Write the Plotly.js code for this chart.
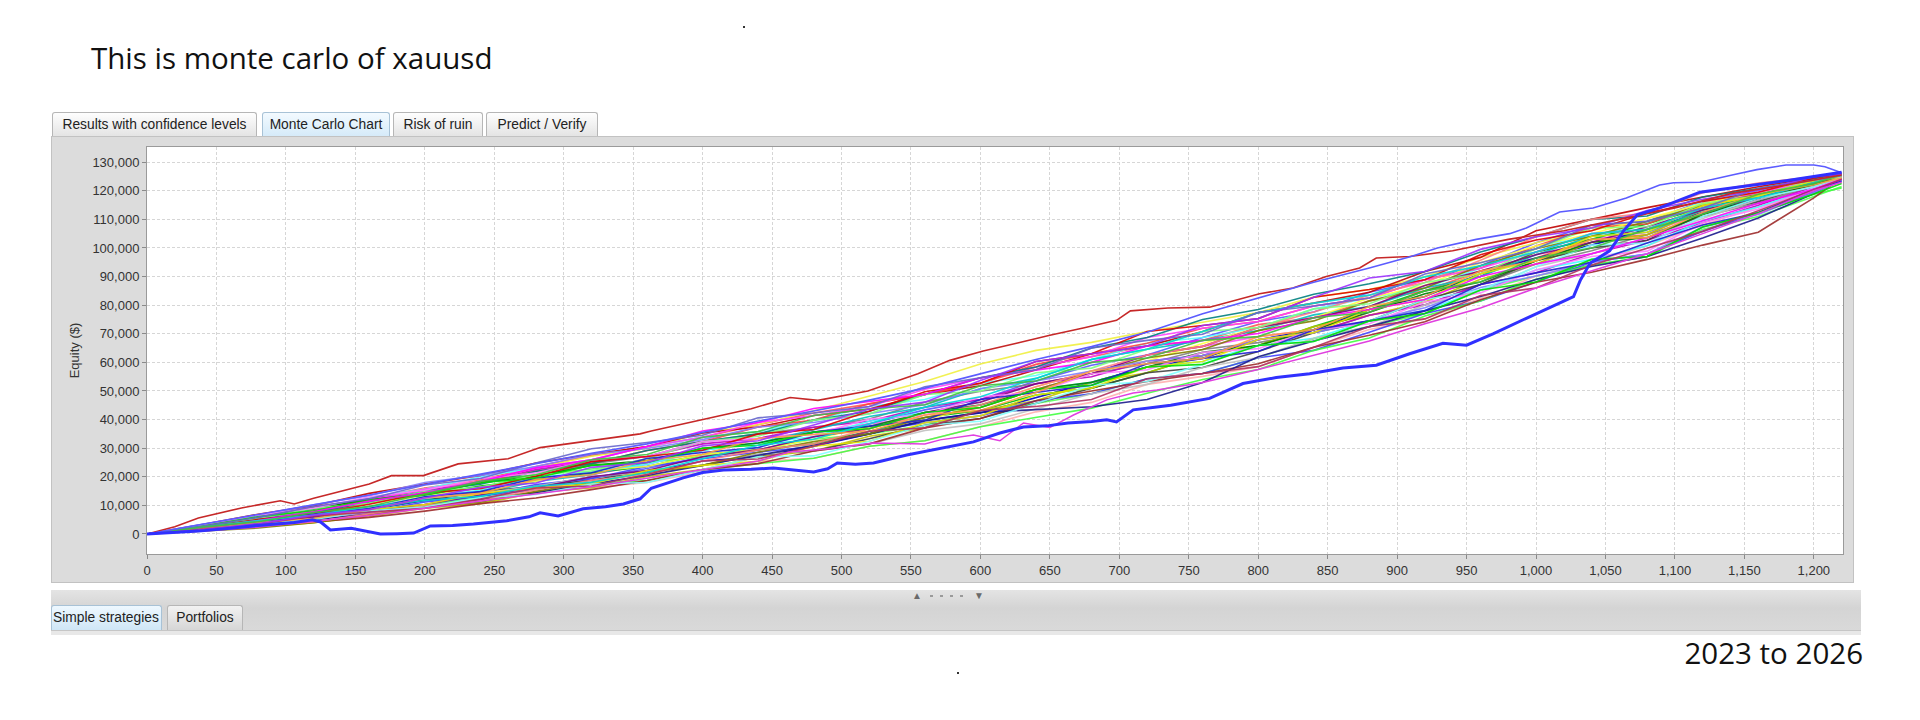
<!DOCTYPE html>
<html>
<head>
<meta charset="utf-8">
<script src="https://cdn.plot.ly/plotly-3.0.1.min.js"></script>
<style>
  html, body { margin: 0; padding: 0; background: #ffffff; }
  #page { position: relative; width: 1920px; height: 720px; overflow: hidden; background: #ffffff;
          font-family: "Liberation Sans", Arial, sans-serif; }
  .bigtext { position: absolute; font-family: "Open Sans", Lato, sans-serif; font-size: 29.5px; line-height: 29.5px;
             color: #111111; white-space: nowrap; }
  .tab { position: absolute; height: 25px; box-sizing: border-box; border: 1px solid #b6b6b6; border-bottom: none;
         border-radius: 3px 3px 0 0; background: linear-gradient(#fefefe, #e3e3e3);
         font-size: 13.8px; line-height: 24px; color: #222; text-align: center; white-space: nowrap; overflow: hidden; }
  .tab.sel { background: linear-gradient(#f3faff, #d4eaf9); border-color: #a8c2d6; }
  #panel { position: absolute; left: 51px; top: 136px; width: 1803px; height: 447px; box-sizing: border-box;
           background: #dcdcdc; border: 1px solid #c2c2c2; }
  #split { position: absolute; left: 51px; top: 590px; width: 1810px; height: 40px;
           background: linear-gradient(#e4e4e4, #d4d4d4 45%, #d9d9d9); }
  #strip { position: absolute; left: 51px; top: 630px; width: 1810px; height: 5px; box-sizing: border-box;
           background: #e8e8e8; border-top: 1px solid #c6c6c6; }
  .grip { position: absolute; top: 590px; font-size: 10px; line-height: 12px; color: #6a6a6a; white-space: nowrap; }
  .gdot { position: absolute; top: 595px; width: 3px; height: 2px; background: #9a9a9a; }
  .btab { position: absolute; top: 605px; height: 25px; box-sizing: border-box; border: 1px solid #b6b6b6;
          border-bottom: none; border-radius: 3px 3px 0 0; background: linear-gradient(#f2f2f2, #d6d6d6);
          font-size: 13.8px; line-height: 24px; color: #222; text-align: center; white-space: nowrap; overflow: hidden; }
  .btab.sel { background: linear-gradient(#eef8ff, #cfe6f6); border-color: #a8c2d6; text-align: left; padding-left: 1px; }
  .speck { position: absolute; width: 2px; height: 2px; background: #333; }
  #chart { position: absolute; left: 0; top: 0; width: 1920px; height: 720px; }
</style>
</head>
<body>
<div id="page">
  <div class="bigtext" style="left:91px; top:43px;">This is monte carlo of xauusd</div>
  <div class="speck" style="left:743px; top:26px;"></div>

  <div class="tab" style="left:52px; top:112px; width:205px;">Results with confidence levels</div>
  <div class="tab sel" style="left:262px; top:112px; width:128px;">Monte Carlo Chart</div>
  <div class="tab" style="left:393px; top:112px; width:90px;">Risk of ruin</div>
  <div class="tab" style="left:486px; top:112px; width:112px;">Predict / Verify</div>

  <div id="panel"></div>
  <div id="chart"></div>

  <div id="split"></div>
  <div class="grip" style="left:912px;">▲</div>
  <div class="gdot" style="left:930px;"></div>
  <div class="gdot" style="left:940px;"></div>
  <div class="gdot" style="left:950px;"></div>
  <div class="gdot" style="left:960px;"></div>
  <div class="grip" style="left:974px;">▼</div>
  <div class="btab sel" style="left:51px; width:111px;">Simple strategies</div>
  <div class="btab" style="left:167px; width:76px;">Portfolios</div>
  <div id="strip"></div>
  <div class="speck" style="left:957px; top:672px;"></div>

  <div class="bigtext" style="right:57px; top:638px;">2023 to 2026</div>
</div>

<script>
// ---------------- data ----------------
// trade number grid shared by the simulated equity curves
const tradeGrid = [0,40,80,120,160,200,240,280,320,360,400,440,480,520,560,600,640,680,720,760,800,840,880,920,960,1000,1040,1080,1120,1160,1200,1220];

// simulated equity curves ($)
const sim01 = [0,2800,6000,9100,12300,16100,18900,23600,27400,30600,33800,38200,42300,45500,48800,52700,58400,62000,65700,67700,73200,75600,81500,85000,91900,96500,103000,104600,114000,118200,123300,125300];
const sim02 = [0,1900,3800,6300,8100,10300,13200,15500,19400,22900,27000,29400,34000,38500,43400,47000,53500,59000,62600,68700,74300,77600,84500,88900,93800,101800,108000,109300,116300,120100,123600,125500];
const sim03 = [0,2400,4700,7800,11100,13900,17900,20700,22700,25000,27000,29400,33100,35000,38000,43200,45600,49000,54300,56100,61600,68300,72500,77100,85200,90200,94000,96900,106500,111000,118000,121500];
const sim04 = [0,2500,5600,8700,11500,15700,18400,23100,27200,29900,35300,38200,43100,48100,53300,59400,64200,67000,70800,74000,77400,82800,85500,89900,96700,101800,106000,110300,114800,120100,123300,125000];
const sim05 = [0,2100,4500,6300,9200,13000,16300,19000,20700,24300,29300,33400,35600,38500,40700,44200,50500,56000,62600,65600,69000,71400,77500,85000,90000,98600,103000,105500,111800,118200,122500,124300];
const sim06 = [0,2800,6000,8700,12700,15700,20000,23100,25900,30600,33800,35800,39800,44600,47000,52700,55400,61000,66700,68700,72200,78700,82500,86000,92900,100700,104100,108400,116300,120100,123800,125500];
const sim07 = [0,1700,3400,4800,7300,9000,11600,14900,16200,18000,21700,25400,26500,30700,32600,37500,42700,46000,52300,55100,58500,65300,71500,75200,82400,90200,95000,100800,108000,114300,120100,123000];
const sim08 = [0,2300,4900,7200,10800,14400,16300,20200,24600,27100,32300,35000,37300,40200,46100,49900,52500,56000,59500,64500,66900,70400,76500,80100,87200,94400,99000,104600,111000,115600,121700,124000];
const sim09 = [0,3300,6900,9900,14200,17500,20500,24800,27900,30600,35300,37400,41400,43700,48800,51800,57400,63000,65700,70800,77400,80700,84500,91800,96700,106000,110000,114100,117800,121400,124600,125800];
const sim10 = [0,2200,4000,6600,8500,11700,13200,16700,20000,21500,25500,27000,30700,35000,39800,42300,47600,53000,58400,61400,67900,71400,78500,83000,91000,96500,101000,106500,112500,116900,122500,125300];
const sim11 = [0,2700,5100,8400,11100,13500,16800,19000,21400,23600,27800,29400,31500,35900,40700,43200,48600,51000,56400,62400,65900,72500,78500,85000,90000,98600,103000,108400,114000,118200,123300,125000];
const sim12 = [0,1200,2500,3900,6200,9000,10600,14400,16200,20100,22500,27000,29000,34200,37100,43200,46600,53000,56400,62400,65900,72500,76500,81100,89100,94400,102000,104600,113300,117500,122200,124300];
const sim13 = [0,3000,5800,9300,12300,15300,17900,22500,25300,27100,31500,33400,37300,39400,44300,47000,52500,55000,60500,62400,67900,70400,76500,80100,87200,91300,98000,102700,108800,114900,121400,124500];
const sim14 = [0,1800,3600,6300,8500,12100,14200,18400,20700,25000,29300,31800,36500,41100,44300,50800,54400,61000,64600,67700,71100,76600,79500,86000,90000,97600,104100,105500,113300,117500,123000,125500];
const sim15 = [0,2300,4500,6600,9600,11700,14800,16700,18800,22200,24000,27800,29000,33300,38000,40400,45600,51000,56400,58200,63800,70400,74500,82000,87200,95500,100000,102700,111800,116200,122200,125000];
const sim16 = [0,2300,5100,7500,11100,13900,17900,21900,24600,29200,32300,37400,39800,45500,48800,52700,59300,63000,66700,71900,74300,79700,82500,88900,92900,100700,107100,108400,115500,119500,124100,125800];
const sim17 = [0,1600,3200,5700,7700,11200,13200,17300,19400,23600,26300,28600,30600,35900,38900,41300,46600,49000,54300,56100,61600,64200,70500,77100,81500,88100,95000,97900,105800,112300,119600,123800];
const sim18 = [0,1900,3800,5400,8100,9900,12700,14400,17500,18700,22500,24600,26500,30700,32600,37500,40700,44000,49200,54000,57500,64200,68500,76200,81500,89100,94000,97000,107300,112300,118800,121000];
const sim19 = [0,2500,4900,8100,10800,13000,16300,18400,22000,23600,27800,29400,33100,37600,39800,45100,51500,57000,60500,66600,72200,75600,82500,86900,94800,100700,105000,110300,115500,119500,124100,125300];
const sim20 = [0,2700,5600,8100,11900,15700,18400,23100,25900,30600,33800,39000,41400,44600,50600,54600,58400,62000,68700,71900,74300,79700,82500,88900,92900,98600,105000,106500,114000,119500,123300,125000];
const sim21 = [0,2100,4000,6900,9200,13000,15300,19600,22000,24300,29300,31800,34000,39400,42500,45100,50500,53000,58400,60300,65900,68400,74500,78100,85200,92300,96000,100800,109500,114300,120900,123500];
const sim22 = [0,2400,4700,6900,9200,12600,14200,16700,20100,21500,24000,27800,29000,31500,36200,38500,43700,49000,52300,58200,61700,68400,72500,80100,85200,93400,98000,103600,110300,116900,121700,124800];
const sim23 = [0,1300,2700,4200,5800,8000,10600,12600,15500,18700,22500,24600,29000,31500,37100,40400,46600,50000,53300,56100,59500,65300,69500,74200,81900,88000,91500,96000,101000,105500,117500,124500];
const sim24 = [0,1500,3000,5000,7000,9500,12000,14500,17500,20500,24000,27500,31000,35000,39500,42500,43500,44500,47000,53000,62000,67500,72500,78000,83000,89000,93500,97000,103500,110500,119000,124000];
const sim25 = [0,2900,5600,9000,11900,14400,17900,20200,24000,25700,30000,31800,35600,37600,42500,45100,50500,53000,58400,63500,65900,71400,77500,84000,88100,95500,102000,103600,111800,117500,122200,124500];
const sim26 = [0,1100,2100,3900,6600,9400,11100,14900,18100,21500,24000,28600,32300,35000,40700,44200,50500,56000,61500,64500,71100,74500,81500,86000,93800,99700,104100,109300,114800,118800,123000,125000];
const sim27 = [0,1700,3400,6000,8100,10300,13700,16100,20000,22200,27000,29400,34000,36800,42500,46100,52500,56000,62600,65600,72200,75600,79500,86900,91900,97600,102000,107400,113300,117500,123000,125500];
const sim28 = [0,2400,5100,7500,11100,14800,17400,21900,24600,29200,32300,35000,39800,42900,48800,54600,58400,65000,68700,75000,78500,83800,87500,91800,98600,103900,110000,111200,117800,120800,124100,125500];
const sim29 = [0,1300,2700,4200,7000,9900,11600,15500,18800,20800,25500,29400,31500,36800,41600,45100,51500,57000,62600,65600,72200,77600,83500,87900,95700,103900,110000,112200,119300,122700,124900,126000];
const sim30 = [0,3400,6500,10200,13400,18000,20500,23600,27900,29900,33000,37400,39000,42000,45200,50800,53500,57000,60500,62400,68000,70400,74500,79100,86200,90200,95000,97900,107300,111700,119300,123500];
const sim31 = [0,2900,5400,9000,10800,14800,16300,20700,22000,26400,32300,34200,39800,42000,48800,49900,56400,58000,64600,70800,72200,78700,80500,87900,91000,99700,107000,107400,115500,118200,123700,125300];
const sim32 = [0,1900,3600,6600,8500,10300,14200,16100,17500,22200,24000,25400,30700,32400,38900,41300,48600,51000,58400,60300,68000,70400,78500,82000,91000,95500,104000,105500,114800,118200,123300,125000];
const sim33 = [0,3100,6700,9000,13000,15300,19400,21300,25900,27100,32300,33400,34800,40200,41600,48000,49500,56000,57400,63500,64800,71400,73500,81100,84300,92300,97000,98900,108800,113600,120900,124300];
const sim34 = [0,1600,3800,5100,8100,9400,12700,13800,17500,18000,22500,27000,27300,32400,38000,39400,45600,52000,53300,59300,65900,67300,74500,82000,85300,93400,101000,101700,111000,117500,121300,124800];
const sim35 = [0,2300,5100,6900,10400,14400,15800,20200,25300,27100,29300,35000,36500,42900,49700,52700,60300,63000,70800,72900,75300,82800,85500,88900,97600,102800,106000,112200,116300,119500,124500,126000];
const sim36 = [0,2100,3800,6900,8900,13000,14800,19600,21400,26400,28500,30200,35600,37600,39800,47000,49500,52000,59500,61400,63800,71400,74500,78100,87200,91300,95000,101700,108000,112300,120500,123300];
const sim37 = [0,2800,6000,8100,11900,13900,17900,19600,24000,25000,30000,31000,35600,36800,42500,44200,50500,52000,58400,59300,65900,67300,74500,77100,85300,88100,96000,97000,107300,112300,118900,122500];
const sim38 = [0,2200,4700,7800,11500,14400,18400,23100,25900,30600,36000,39000,43900,46300,48800,54600,57400,60000,65700,67700,70100,75600,78500,82000,90000,94400,98000,103600,109500,115600,120500,124000];
const sim39 = [0,2500,4700,6600,9600,11700,13200,16700,18100,21500,26300,31000,33100,38500,44300,48000,54400,61000,64600,70800,77400,80700,83500,89900,93800,98600,105000,106500,114000,117500,122900,125500];
const sim40 = [0,1700,4000,5400,8500,12600,14200,19000,20700,25700,27800,33400,34800,35900,41600,43200,49500,57000,59500,61400,69000,71400,79500,83000,91900,95500,103000,103600,112500,118800,122100,124500];
const sim41 = [0,2700,5800,9600,12300,17100,19400,24800,29800,32000,34500,40600,42300,44600,51500,54600,57400,65000,67700,69800,77400,79700,82500,90900,94800,99700,108000,109300,114000,120800,123700,125300];
const sim42 = [0,1800,3400,6300,7700,9000,12200,16100,16800,20800,25500,26200,30700,35900,37100,43200,44600,47000,54300,56100,58500,65300,72500,75200,83400,86000,94000,99800,105800,113000,120500,124000];
const sim43 = [0,2400,4300,7500,9600,13900,18400,20700,25900,27800,33800,35800,41400,43700,45200,51800,53500,60000,61500,67700,69000,75600,77500,85000,88100,96500,100000,106500,111800,118800,122500,125800];
const sim44 = [0,1500,3600,6600,8500,12600,16300,17800,23300,25000,30800,32600,38100,43700,46100,53700,60300,63000,65700,72900,75300,82800,89500,91800,99500,103900,107000,113100,117000,120100,124900,125800];

// outlying simulations traced individually
const topRedTrades = [0,20,37,68,96,106,120,140,160,176,199,224,260,283,319,355,363,400,435,463,483,519,555,578,602,626,650,674,698,708,735,765,801,825,849,873,885,909,940,980,1020,1060,1100,1140,1180,1220];
const topRedEquity = [0,2500,5600,9100,11600,10500,12500,15000,17500,20400,20400,24500,26300,30200,32600,35000,36000,40000,43800,47700,46700,50000,56000,60700,64000,66700,69500,72000,74700,78000,79000,79300,84000,86000,90000,93000,96500,97000,99000,103000,106000,110000,114000,119000,122000,125500];

const highBlueTrades = [0,40,80,120,160,200,240,280,320,360,400,440,480,520,560,600,640,680,720,760,800,840,880,910,929,957,981,993,1017,1041,1065,1089,1099,1118,1142,1159,1180,1200,1208,1220];
const highBlueEquity = [0,3400,6800,10000,13600,17300,21000,24600,28200,31500,35500,39500,43000,46800,51000,56000,61000,65500,70500,77000,82500,88000,93000,97000,100000,103000,105000,107000,112600,114000,117500,122000,122800,123000,125600,127400,129000,129000,128400,126300];

const lowMagentaTrades = [0,40,80,120,160,200,240,280,320,360,400,440,463,490,523,560,571,595,614,631,650,667,691,710,727,760,800,840,880,920,960,1000,1040,1080,1120,1160,1200,1220];
const lowMagentaEquity = [0,1000,2400,4500,6500,9000,11500,14000,16500,19500,22500,25500,28700,29800,31800,31500,32900,34600,32600,38800,37200,41600,46900,49300,50300,53000,57500,62500,67500,73500,79000,86000,92000,98000,105000,112000,120000,123000];

// original strategy equity (thick blue)
const originalTrades = [0,20,37,60,80,106,119,125,132,147,158,168,180,192,204,220,235,259,275,283,296,314,330,343,355,363,386,400,415,435,451,465,480,490,497,510,523,547,571,595,614,631,648,663,680,691,698,710,727,737,765,789,813,837,861,885,909,933,950,969,993,1017,1027,1032,1039,1053,1063,1073,1089,1118,1150,1180,1220];
const originalEquity = [0,600,1000,2000,3000,4000,5000,4200,1400,2000,1000,0,100,300,2800,3000,3500,4600,6000,7400,6300,8800,9500,10500,12300,16000,19600,21500,22400,22600,23100,22500,21700,22800,24800,24400,24800,27600,30000,32200,35300,37400,37800,38800,39300,39900,39200,43400,44400,45000,47400,52600,54700,56000,58000,59000,63000,66700,66000,70000,75400,80700,83000,88800,94700,99000,106000,111600,114000,119500,121500,123500,126500];

// ---------------- styles ----------------
const simColors = ["#ff5555","#5555ff","#55ff55","#f0f040","#ff55ff","#55ffff","#ffafaf","#808080",
                   "#c00000","#0000c0","#00c000","#c0c000","#c000c0","#00c0c0","#404040","#ff4040",
                   "#4040ff","#40ff40","#ffff40","#ff40ff","#40ffff","#c0c0c0","#9c2a2a","#1a1a8c",
                   "#008000","#808000","#800080","#008080","#ff8080","#8080ff","#80ff80","#e6e600",
                   "#ff80ff","#80ffff","#e00000","#1f1fd0","#00dd00","#ff00ff","#00d8d8","#ffa040",
                   "#6666cc","#b03060","#40c040","#9b30ff"];

const simSeries = [sim01,sim02,sim03,sim04,sim05,sim06,sim07,sim08,sim09,sim10,sim11,sim12,sim13,sim14,
                   sim15,sim16,sim17,sim18,sim19,sim20,sim21,sim22,sim23,sim24,sim25,sim26,sim27,sim28,
                   sim29,sim30,sim31,sim32,sim33,sim34,sim35,sim36,sim37,sim38,sim39,sim40,sim41,sim42,
                   sim43,sim44];

const traces = simSeries.map((ys, k) => ({
  type: 'scatter', mode: 'lines', x: tradeGrid, y: ys,
  line: { color: simColors[k], width: 1.6 }, opacity: 0.9, hoverinfo: 'skip', showlegend: false
}));
traces.push({ type: 'scatter', mode: 'lines', x: lowMagentaTrades, y: lowMagentaEquity,
  line: { color: '#e040e0', width: 1.5 }, hoverinfo: 'skip', showlegend: false });
traces.push({ type: 'scatter', mode: 'lines', x: topRedTrades, y: topRedEquity,
  line: { color: '#c62828', width: 1.6 }, hoverinfo: 'skip', showlegend: false });
traces.push({ type: 'scatter', mode: 'lines', x: highBlueTrades, y: highBlueEquity,
  line: { color: '#5c5cff', width: 1.6 }, hoverinfo: 'skip', showlegend: false });
traces.push({ type: 'scatter', mode: 'lines', x: originalTrades, y: originalEquity,
  line: { color: '#3030ff', width: 3 }, hoverinfo: 'skip', showlegend: false });

const axisFont = { family: '"Liberation Sans", Arial, sans-serif', size: 13, color: '#333333' };

const layout = {
  width: 1920, height: 720,
  margin: { l: 147, r: 77, t: 147, b: 166, pad: 0 },
  paper_bgcolor: 'rgba(0,0,0,0)',
  plot_bgcolor: '#ffffff',
  showlegend: false,
  hovermode: false,
  font: axisFont,
  xaxis: {
    range: [0, 1221], dtick: 50, tick0: 0, tickformat: ',d',
    showgrid: true, gridcolor: '#d6d6d6', griddash: '3px,2px', gridwidth: 1,
    zeroline: false, showline: true, linecolor: '#9a9a9a', linewidth: 1, mirror: true,
    ticks: 'outside', ticklen: 4, tickcolor: '#8a8a8a', tickfont: axisFont
  },
  yaxis: {
    range: [-7000, 135300], dtick: 10000, tick0: 0, tickformat: ',d',
    showgrid: true, gridcolor: '#d6d6d6', griddash: '3px,2px', gridwidth: 1,
    zeroline: false, showline: true, linecolor: '#9a9a9a', linewidth: 1, mirror: true,
    ticks: 'outside', ticklen: 4, tickcolor: '#8a8a8a', tickfont: axisFont,
    title: { text: 'Equity ($)', font: axisFont, standoff: 9 }
  }
};

Plotly.newPlot('chart', traces, layout, { staticPlot: true, displayModeBar: false });
</script>
</body>
</html>
